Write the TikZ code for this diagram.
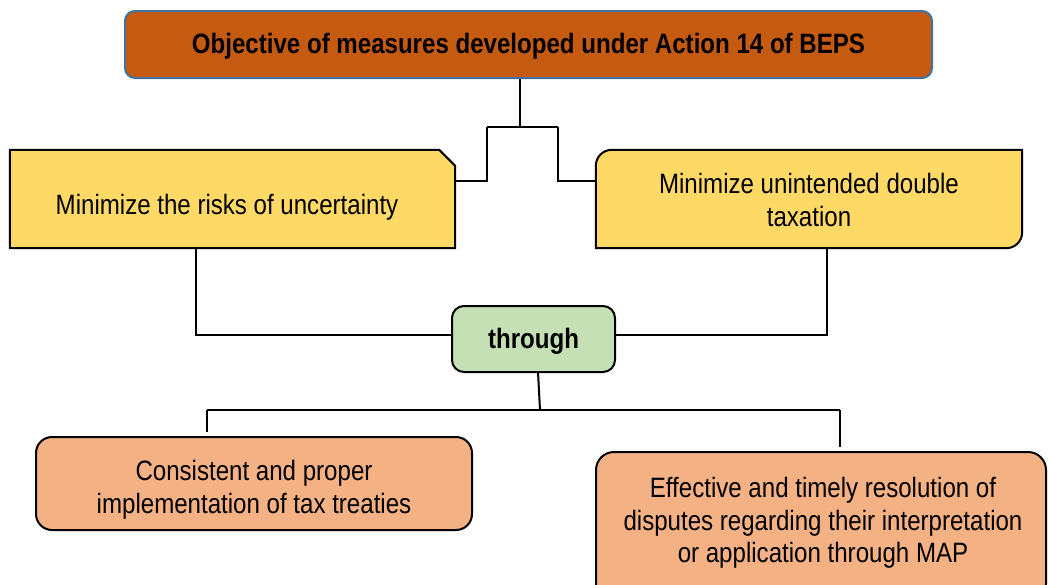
\documentclass[tikz,border=0pt]{standalone}
\usepackage{fontspec}
\setmainfont{Liberation Sans}[FakeStretch=0.86]
\usetikzlibrary{backgrounds}
\definecolor{topfill}{HTML}{C55A11}
\definecolor{topedge}{HTML}{41719C}
\definecolor{yel}{HTML}{FFD966}
\definecolor{grn}{HTML}{C5E0B4}
\definecolor{org}{HTML}{F4B183}
\begin{document}
\begin{tikzpicture}[x=1pt,y=1pt,
  txt/.style={font=\fontsize{28}{32.5}\selectfont, align=center, text=black},
  boldtxt/.style={font=\fontsize{28}{32.5}\selectfont\bfseries, align=center, text=black, text depth=1.5pt},
  boxbase/.style={draw=black, line width=2pt, inner sep=0pt},
  conn/.style={draw=black, line width=2pt}]
\useasboundingbox (0,0) rectangle (1048,-584);
% top box
\node[boxbase, draw=topedge, fill=topfill, rounded corners=10pt, minimum width=807pt, minimum height=67pt, boldtxt] (top) at (528.5,-44.5) {Objective of measures developed under Action 14 of BEPS};
% left box (chamfered top-right corner)
\node[inner sep=0pt, minimum width=445pt, minimum height=98pt] (left) at (232.5,-199) {};
\draw[fill=yel, line width=2pt] (left.south west) -- (left.north west) -- ([xshift=-16pt]left.north east) -- ([yshift=-16pt]left.north east) -- (left.south east) -- cycle;
\node[txt] (lefttxt) at (227,-207) {Minimize the risks of uncertainty};
% right box
\node[inner sep=0pt, minimum width=426pt, minimum height=98pt] (right) at (809,-199) {};
\draw[fill=yel, line width=2pt] ([yshift=-16pt]right.north west) arc[start angle=180,end angle=90,radius=16pt] -- (right.north east) -- ([yshift=16pt]right.south east) arc[start angle=0,end angle=-90,radius=16pt] -- (right.south west) -- cycle;
\node[txt] (righttxt) at (809,-200) {Minimize unintended double\\taxation};
% through
\node[boxbase, fill=grn, rounded corners=12pt, minimum width=163pt, minimum height=66pt, boldtxt] (thr) at (533.5,-339) {through};
% bottom left
\node[boxbase, fill=org, rounded corners=16pt, minimum width=436pt, minimum height=93pt] (bl) at (254,-483.5) {};
\node[txt] (bltxt) at (254,-490) {Consistent and proper\\implementation of tax treaties};
% bottom right
\node[boxbase, fill=org, rounded corners=18pt, minimum width=450pt, minimum height=150pt] (br) at (821,-527) {};
\node[txt] (brtxt) at (823,-523) {Effective and timely resolution of\\disputes regarding their interpretation\\or application through MAP};
% connectors
\coordinate (j1) at (520,-127);
\coordinate (jl) at (487,-127);
\coordinate (jr) at (558,-127);
\draw[conn] (top.south -| j1) -- (j1);
\draw[conn] (jl) -- (jr);
\draw[conn] (jl) |- ([yshift=18pt]left.east);
\draw[conn] (jr) |- ([yshift=18pt]right.west);
\coordinate (lb) at (196,-248);
\coordinate (rb) at (827,-248);
\draw[conn] (lb) |- ([yshift=4pt]thr.west);
\draw[conn] (rb) |- ([yshift=4pt]thr.east);
\coordinate (tb) at (538,-372);
\coordinate (hm) at (540,-410);
\coordinate (hl) at (207,-410);
\coordinate (hr) at (840,-410);
\coordinate (hle) at (207,-432);
\coordinate (hre) at (840,-447);
\draw[conn] (tb) -- (hm);
\draw[conn] (hl) -- (hr);
\draw[conn] (hl) -- (hle);
\draw[conn] (hr) -- (hre);
\end{tikzpicture}
\end{document}
